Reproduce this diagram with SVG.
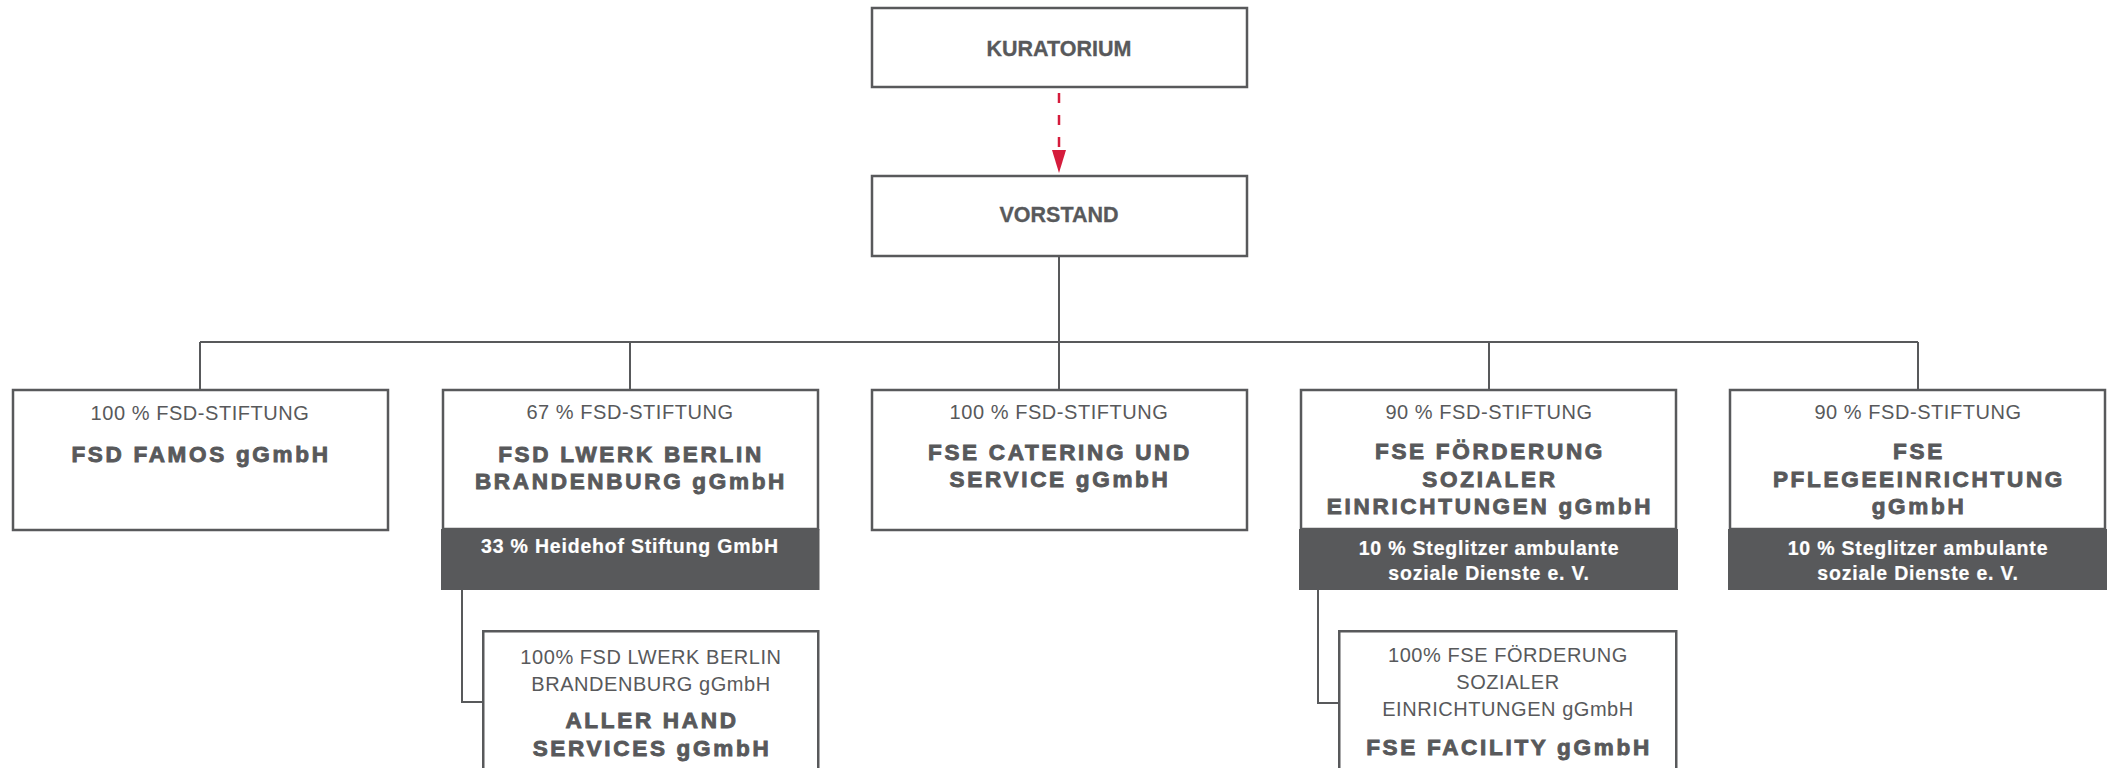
<svg xmlns="http://www.w3.org/2000/svg" width="2114" height="768" viewBox="0 0 2114 768">
<style>
.box{fill:#fff;stroke:#58595b;stroke-width:2.5}
.band{fill:#58595b}
.ln{fill:none;stroke:#58595b;stroke-width:2}
.t{font-family:"Liberation Sans",Arial,sans-serif;text-anchor:middle;fill:#58595b}
.top{font-size:21.5px;font-weight:bold;stroke:#58595b;stroke-width:0.3}
.own{font-size:20px;letter-spacing:0.55px}
.name{font-size:22.5px;font-weight:bold;letter-spacing:2.7px;stroke:#58595b;stroke-width:0.9}
.bt{font-family:"Liberation Sans",Arial,sans-serif;text-anchor:middle;fill:#fff;font-size:19.5px;font-weight:bold;letter-spacing:0.8px;stroke:#fff;stroke-width:0.2}
</style>
<g id="connectors">
<line x1="1059" y1="93" x2="1059" y2="150" stroke="#d51c3c" stroke-width="2.5" stroke-dasharray="10,12"/>
<path d="M1052,150 L1066,150 L1059,173 Z" fill="#d51c3c"/>
<path class="ln" d="M1059,257 V342 M200,342 H1918 M200,342 V389 M630,342 V389 M1059,342 V389 M1489,342 V389 M1918,342 V389"/>
<path class="ln" d="M462,590 V702 H483"/>
<path class="ln" d="M1318,590 V703 H1339"/>
</g>
<g id="kuratorium">
<rect class="box" x="872" y="8" width="375" height="79"/>
<text class="t top" x="1059" y="56">KURATORIUM</text>
</g>
<g id="vorstand">
<rect class="box" x="872" y="176" width="375" height="80"/>
<text class="t top" x="1059" y="222">VORSTAND</text>
</g>
<g id="famos">
<rect class="box" x="13" y="390" width="375" height="140"/>
<text class="t own" x="200" y="420">100 % FSD-STIFTUNG</text>
<text class="t name" x="201" y="462">FSD FAMOS gGmbH</text>
</g>
<g id="lwerk">
<rect class="box" x="443" y="390" width="375" height="139"/>
<rect class="band" x="441" y="529" width="378.5" height="61"/>
<text class="t own" x="630" y="419">67 % FSD-STIFTUNG</text>
<text class="t name" x="631" y="462">FSD LWERK BERLIN</text>
<text class="t name" x="631" y="489">BRANDENBURG gGmbH</text>
<text class="bt" x="630" y="553">33 % Heidehof Stiftung GmbH</text>
</g>
<g id="catering">
<rect class="box" x="872" y="390" width="375" height="140"/>
<text class="t own" x="1059" y="419">100 % FSD-STIFTUNG</text>
<text class="t name" x="1060" y="460">FSE CATERING UND</text>
<text class="t name" x="1060" y="487">SERVICE gGmbH</text>
</g>
<g id="foerderung">
<rect class="box" x="1301" y="390" width="375" height="139"/>
<rect class="band" x="1299" y="529" width="379" height="61"/>
<text class="t own" x="1489" y="419">90 % FSD-STIFTUNG</text>
<text class="t name" x="1490" y="459">FSE FÖRDERUNG</text>
<text class="t name" x="1490" y="487">SOZIALER</text>
<text class="t name" x="1490" y="514">EINRICHTUNGEN gGmbH</text>
<text class="bt" x="1489" y="555">10 % Steglitzer ambulante</text>
<text class="bt" x="1489" y="580">soziale Dienste e. V.</text>
</g>
<g id="pflege">
<rect class="box" x="1730" y="390" width="375" height="139"/>
<rect class="band" x="1728" y="529" width="379" height="61"/>
<text class="t own" x="1918" y="419">90 % FSD-STIFTUNG</text>
<text class="t name" x="1919" y="459">FSE</text>
<text class="t name" x="1919" y="487">PFLEGEEINRICHTUNG</text>
<text class="t name" x="1919" y="514">gGmbH</text>
<text class="bt" x="1918" y="555">10 % Steglitzer ambulante</text>
<text class="bt" x="1918" y="580">soziale Dienste e. V.</text>
</g>
<g id="allerhand">
<rect class="box" x="483.25" y="631.25" width="335" height="170"/>
<text class="t own" x="651" y="664">100% FSD LWERK BERLIN</text>
<text class="t own" x="651" y="691">BRANDENBURG gGmbH</text>
<text class="t name" x="652" y="728">ALLER HAND</text>
<text class="t name" x="652" y="756">SERVICES gGmbH</text>
</g>
<g id="facility">
<rect class="box" x="1339.25" y="631.25" width="337" height="170"/>
<text class="t own" x="1508" y="662">100% FSE FÖRDERUNG</text>
<text class="t own" x="1508" y="689">SOZIALER</text>
<text class="t own" x="1508" y="716">EINRICHTUNGEN gGmbH</text>
<text class="t name" x="1509" y="755">FSE FACILITY gGmbH</text>
</g>
</svg>
